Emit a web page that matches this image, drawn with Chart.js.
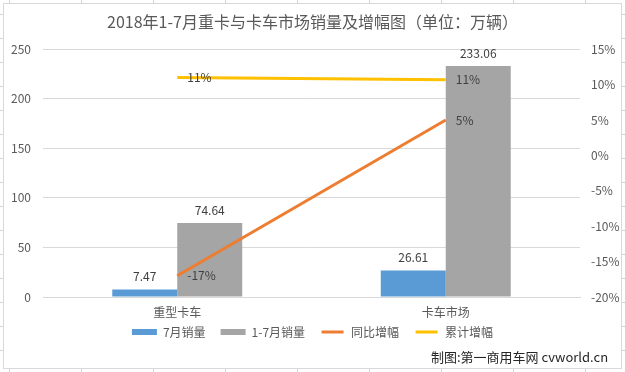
<!DOCTYPE html>
<html>
<head>
<meta charset="utf-8">
<script src="https://cdn.jsdelivr.net/npm/chart.js@4/dist/chart.umd.min.js"></script>
<style>
  html, body { margin: 0; padding: 0; width: 625px; height: 372px; overflow: hidden; }
  body {
    position: relative;
    background-color: #fff;
    background-image:
      repeating-linear-gradient(90deg, transparent 0 9px, #d4d4d4 9px 10px, transparent 10px 72px),
      repeating-linear-gradient(180deg, transparent 0 14px, #d4d4d4 14px 15px, transparent 15px 24px);
  }
  #box {
    position: absolute; left: 3px; top: 3px; width: 619px; height: 366px;
    box-sizing: border-box; border: 1px solid #d9d9d9; background: #fff;
  }
  #chart { position: absolute; left: 0; top: 0; }
  #mark {
    position: absolute; left: 431px; top: 348px; line-height: 18px;
    font-family: "Noto Sans CJK SC", sans-serif; font-size: 13px; color: #262626; white-space: nowrap;
  }
</style>
</head>
<body>
<div id="box"><canvas id="chart" width="617" height="364"></canvas></div>
<div id="mark">制图:第一商用车网 cvworld.cn</div>
<script>
const titleText = '2018年1-7月重卡与卡车市场销量及增幅图（单位：万辆）';
const categories = ['重型卡车', '卡车市场'];
const seriesNames = ['7月销量', '1-7月销量', '同比增幅', '累计增幅'];
const julySales = [7.47, 26.61];
const ytdSales = [74.64, 233.06];
const yoyGrowth = [-17, 5];
const cumGrowth = [11.0, 10.7];
const leftTicks = [0, 50, 100, 150, 200, 250];
const rightTicks = [-20, -15, -10, -5, 0, 5, 10, 15];

const FONT = '"Noto Sans CJK SC", "Noto Sans", sans-serif';
const TXT = '#595959';

const dataLabels = {
  id: 'dataLabels',
  afterDatasetsDraw(chart) {
    const ctx = chart.ctx;
    ctx.save();
    ctx.font = '12px ' + FONT;
    ctx.fillStyle = '#404040';
    chart.data.datasets.forEach((ds, i) => {
      const meta = chart.getDatasetMeta(i);
      meta.data.forEach((el, j) => {
        const v = ds.data[j];
        if (ds.type === 'line') {
          ctx.textAlign = 'left';
          ctx.textBaseline = 'middle';
          ctx.fillText(Math.round(v) + '%', el.x + 10, el.y);
        } else {
          ctx.textAlign = 'center';
          ctx.textBaseline = 'bottom';
          ctx.fillText(v.toFixed(2), el.x, el.y - 7);
        }
      });
    });
    ctx.restore();
  }
};

// move the legend row up closer to the axis labels (as in the original)
const legendShift = {
  id: 'legendShift',
  afterLayout(chart) {
    if (chart.legend) {
      chart.legend.top -= 16;
      chart.legend.bottom -= 16;
    }
  }
};

new Chart(document.getElementById('chart'), {
  type: 'bar',
  data: {
    labels: categories,
    datasets: [
      { label: seriesNames[0], data: julySales, backgroundColor: '#5B9BD5', yAxisID: 'y', order: 1,
        categoryPercentage: 0.484, barPercentage: 1 },
      { label: seriesNames[1], data: ytdSales, backgroundColor: '#A5A5A5', yAxisID: 'y', order: 1,
        categoryPercentage: 0.484, barPercentage: 1 },
      { type: 'line', label: seriesNames[2], data: yoyGrowth, borderColor: '#ED7D31', backgroundColor: '#ED7D31',
        borderWidth: 3, pointRadius: 0, yAxisID: 'y1', order: 0 },
      { type: 'line', label: seriesNames[3], data: cumGrowth, borderColor: '#FFC000', backgroundColor: '#FFC000',
        borderWidth: 3, pointRadius: 0, yAxisID: 'y1', order: 0 }
    ]
  },
  options: {
    responsive: false,
    animation: false,
    devicePixelRatio: 1,
    layout: { padding: { left: 0, right: 0, top: 0, bottom: 4 } },
    plugins: {
      tooltip: { enabled: false },
      title: {
        display: true, text: titleText, color: TXT,
        font: { family: FONT, size: 16, weight: 'normal' },
        padding: { top: 8, bottom: 18 }
      },
      legend: {
        position: 'bottom',
        labels: {
          boxWidth: 25, boxHeight: 6, padding: 15, color: TXT,
          font: { family: FONT, size: 12 },
          sort: (a, b) => a.datasetIndex - b.datasetIndex,
          generateLabels(chart) {
            return chart.data.datasets.map((ds, i) => ({
              text: ds.label,
              fillStyle: ds.type === 'line' ? ds.borderColor : ds.backgroundColor,
              strokeStyle: '#ffffff',
              lineWidth: ds.type === 'line' ? 3 : 0,
              fontColor: TXT,
              hidden: false,
              datasetIndex: i
            }));
          }
        }
      }
    },
    scales: {
      x: {
        grid: { display: false, drawTicks: false },
        border: { display: true, color: '#d9d9d9' },
        ticks: { color: TXT, font: { family: FONT, size: 12 }, padding: 8 },
        afterFit(s) { s.height = 30; }
      },
      y: {
        position: 'left', min: 0, max: 250,
        afterBuildTicks(s) { s.ticks = leftTicks.map(v => ({ value: v })); },
        ticks: { color: TXT, font: { family: FONT, size: 12 }, padding: 12 },
        grid: { color: '#d9d9d9', drawTicks: false },
        border: { display: false },
        afterFit(s) { s.width = 39; }
      },
      y1: {
        position: 'right', min: -20, max: 15,
        afterBuildTicks(s) { s.ticks = rightTicks.map(v => ({ value: v })); },
        ticks: { color: TXT, font: { family: FONT, size: 12 }, padding: 11, callback: v => v + '%' },
        grid: { display: false, drawTicks: false },
        border: { display: false },
        afterFit(s) { s.width = 41; }
      }
    }
  },
  plugins: [dataLabels, legendShift]
});
</script>
</body>
</html>
